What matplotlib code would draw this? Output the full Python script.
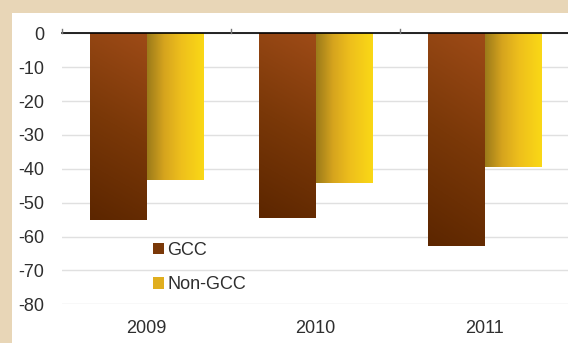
import matplotlib.pyplot as plt
import numpy as np
from matplotlib.colors import LinearSegmentedColormap
from matplotlib.patches import Patch, Rectangle

plt.rcParams["font.family"] = ["Liberation Sans", "DejaVu Sans"]

years = ["2009", "2010", "2011"]
gcc = [-55.1, -54.5, -62.7]
non_gcc = [-43.2, -44.1, -39.6]
y_ticks = [0, -10, -20, -30, -40, -50, -60, -70, -80]

W, H = 568, 343
fig = plt.figure(figsize=(W / 100, H / 100), dpi=100)
fig.patch.set_facecolor("#E8D6B7")
fig.add_artist(Rectangle((12 / W, 0), 1, (H - 13) / H, transform=fig.transFigure,
                         facecolor="white", edgecolor="none", zorder=0))

ax = fig.add_axes([62 / W, (H - 304.3) / H, 507 / W, (304.3 - 33.3) / H])
ax.set_facecolor("none")

# gradient fills for the two series
brown = LinearSegmentedColormap.from_list("brown", ["#5C2600", "#7A3808", "#9E4B17"])
gold = LinearSegmentedColormap.from_list(
    "gold", [(0, "#9C7B1A"), (0.3, "#D6A41E"), (0.6, "#EEBF1C"), (1, "#FAD816")])

x = np.arange(len(years))
w = 0.333
bars_g = ax.bar(x - w, gcc, w, align="edge", color="#7A3808", zorder=2)
bars_n = ax.bar(x, non_gcc, w, align="edge", color="#E8B41E", zorder=2)

gy, gx = np.mgrid[0:1:100j, 0:1:100j]
grad_g = 0.85 * gy + 0.15 * gx
grad_n = gx
for bars, grad, cmap in [(bars_g, grad_g, brown), (bars_n, grad_n, gold)]:
    for b in bars:
        x0, y0 = b.get_x(), b.get_y()
        x1, y1 = x0 + b.get_width(), y0 + b.get_height()
        ax.imshow(grad, cmap=cmap, extent=[x0, x1, min(y0, y1), max(y0, y1)],
                  origin="lower", aspect="auto", zorder=3, interpolation="bilinear")
        b.set_visible(False)

ax.set_xlim(-0.5, 2.5)
ax.set_ylim(-80, 0)

ax.set_yticks(y_ticks)
ax.set_yticklabels([str(v) for v in y_ticks])
ax.yaxis.grid(True, color="#E0E0E0", linewidth=1, zorder=0)
ax.set_axisbelow(True)
ax.tick_params(axis="y", length=0, pad=13, labelsize=13, labelcolor="#2E2E2E")

ax.set_xticks(x)
ax.set_xticklabels(years)
ax.tick_params(axis="x", length=0, pad=11.5, labelsize=13, labelcolor="#2E2E2E")

for s in ax.spines.values():
    s.set_visible(False)

# category axis at zero with small upward tick marks
ax.axhline(0, color="black", linewidth=1.2, zorder=4, clip_on=False)
for b in np.arange(-0.5, 3.0, 1.0):
    ax.plot([b, b], [0, 1.2], color="#777777", linewidth=1, zorder=4, clip_on=False)

handles = [Patch(facecolor="#7A3808", label="GCC"),
           Patch(facecolor="#E0AE1E", label="Non-GCC")]
ax.legend(handles=handles, loc="upper left", bbox_to_anchor=(153 / W, (H - 242) / H),
          bbox_transform=fig.transFigure, frameon=False, fontsize=13,
          handlelength=0.6, handleheight=0.6, handletextpad=0.2,
          labelspacing=0.95, borderpad=0, borderaxespad=0, labelcolor="#2E2E2E")

fig.savefig("out.png", dpi=100, facecolor=fig.get_facecolor())
